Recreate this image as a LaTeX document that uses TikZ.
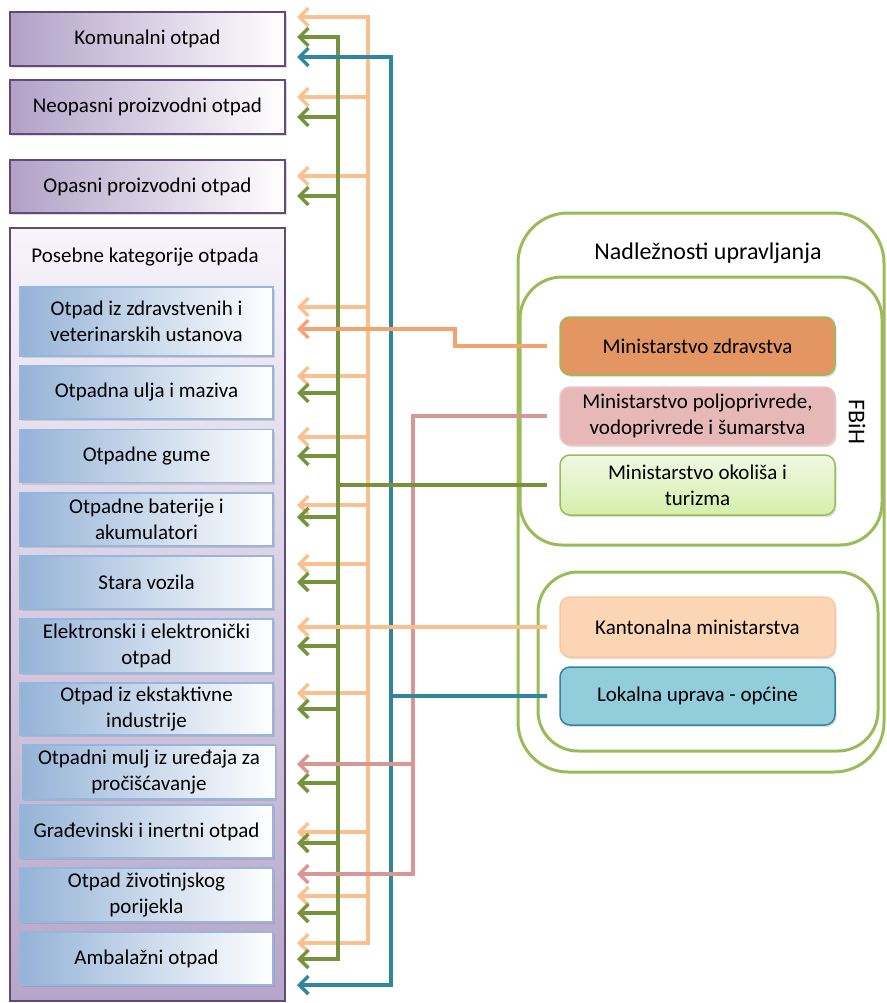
\documentclass[tikz,border=0pt]{standalone}
\usepackage{fontspec}
\setmainfont{Carlito}
\usetikzlibrary{arrows.meta,shadows}

\definecolor{lilac}{RGB}{178,161,199}
\definecolor{lilacpale}{RGB}{247,244,250}
\definecolor{lilacdark}{RGB}{96,74,123}
\definecolor{steel}{RGB}{149,179,215}
\definecolor{steelline}{RGB}{150,182,222}
\definecolor{leaf}{RGB}{155,187,89}
\definecolor{moss}{RGB}{118,146,60}
\definecolor{peach}{RGB}{250,192,144}
\definecolor{tangerine}{RGB}{244,162,112}
\definecolor{rose}{RGB}{217,150,148}
\definecolor{sea}{RGB}{49,133,156}
\definecolor{health}{RGB}{228,150,98}
\definecolor{farm}{RGB}{230,185,184}
\definecolor{farmline}{RGB}{236,196,195}
\definecolor{envtop}{RGB}{240,248,228}
\definecolor{envbot}{RGB}{212,240,170}
\definecolor{canton}{RGB}{251,213,180}
\definecolor{cantonline}{RGB}{250,200,160}
\definecolor{local}{RGB}{146,205,220}

\tikzset{
  txt/.style={font=\fontsize{21}{26}\selectfont, align=center},
  kind/.style={txt, draw=lilacdark, line width=1.5pt, left color=lilac, right color=white,
    minimum width=275pt, minimum height=54pt, inner sep=0pt,
    drop shadow={opacity=0.25,shadow xshift=1.5pt,shadow yshift=-2pt}},
  group/.style={draw=lilacdark, line width=1.2pt, top color=lilacpale, bottom color=lilac!95,
    minimum width=275pt, inner sep=0pt},
  sort/.style={txt, draw=steelline, line width=1.2pt, left color=steel, right color=white,
    minimum width=253pt, minimum height=53pt, inner sep=0pt,
    drop shadow={opacity=0.25,shadow xshift=1.5pt,shadow yshift=-2pt}},
  ministry/.style={txt, rounded corners=10pt, line width=1.5pt, minimum width=275pt,
    minimum height=58pt, inner sep=0pt,
    drop shadow={opacity=0.25,shadow xshift=1.5pt,shadow yshift=-2pt}},
  frame/.style={draw=leaf, line width=3pt, inner sep=0pt},
  link/.style={line width=3.5pt},
  arr/.style={link, -{Straight Barb[length=9pt,width=18pt]}},
  twoarr/.style={link, {Straight Barb[length=9pt,width=18pt]}-{Straight Barb[length=9pt,width=18pt]}},
}

\begin{document}
\begin{tikzpicture}[x=1pt,y=-1pt]
\useasboundingbox (0,0) rectangle (886,1003);

% competences
\node[frame, rounded corners=50pt, minimum width=366pt, minimum height=559pt] (nadl) at (701,492.5) {};
\node[frame, rounded corners=42pt, minimum width=362pt, minimum height=268pt] (fbih) at (701,411) {};
\node[frame, rounded corners=40pt, minimum width=340pt, minimum height=179pt] (kanton) at (708,661.5) {};
\node[txt, font=\fontsize{24}{28}\selectfont] (nadllbl) at (708,253) {Nadležnosti upravljanja};
\node[txt, font=\fontsize{24}{28}\selectfont, rotate=-90] (fbihlbl) at (857,422) {FBiH};

\node[ministry, draw=leaf, fill=health] (zdr) at (697.5,346) {Ministarstvo zdravstva};
\node[ministry, draw=farmline, fill=farm] (polj) at (697.5,416) {Ministarstvo poljoprivrede,\\vodoprivrede i šumarstva};
\node[ministry, draw=leaf, top color=envtop, bottom color=envbot, minimum height=60pt] (okol) at (697.5,485) {Ministarstvo okoliša i\\turizma};
\node[ministry, draw=cantonline, fill=canton, minimum height=60pt] (kant) at (697.5,627) {Kantonalna ministarstva};
\node[ministry, draw=sea, fill=local] (lok) at (697.5,696) {Lokalna uprava - općine};

% trunks
\coordinate (tip) at (297,0);
\coordinate (gx) at (338,0);
\coordinate (ox) at (368,0);
\coordinate (tx) at (391,0);
\coordinate (px) at (413,0);
\coordinate (zstep) at (455,329);

\draw[twoarr, peach] (tip|-0,17) -- (ox|-0,17) -- (ox|-0,943) -- (tip|-0,943);
\foreach \y in {97,176,307,376,437,505,564,693,832,896}
  \draw[arr, peach] (ox|-0,\y) -- (tip|-0,\y);
\draw[twoarr, moss] (tip|-0,37) -- (gx|-0,37) -- (gx|-0,959) -- (tip|-0,959);
\foreach \y in {117,196,393,456,517,582,646,709,783,843,913}
  \draw[arr, moss] (gx|-0,\y) -- (tip|-0,\y);
\draw[twoarr, sea] (tip|-0,57) -- (tx|-0,57) -- (tx|-0,985) -- (tip|-0,985);

\draw[arr, tangerine, shorten <=12pt] (zdr.west) -| (zstep) -- (zstep -| tip);
\draw[arr, rose, shorten <=12pt] (polj.west) -| (px|-0,874) -- (tip|-0,874);
\draw[arr, rose] (px|-0,764) -- (tip|-0,764);
\draw[link, moss, shorten <=12pt] (okol.west) -- (okol.west -| gx);
\draw[arr, peach, shorten <=12pt] (kant.west) -- (kant.west -| tip);
\draw[link, sea, shorten <=12pt] (lok.west) -- (lok.west -| tx);

% waste kinds
\node[kind] (kom) at (147.5,39) {Komunalni otpad};
\node[kind] (neo) at (147.5,107) {Neopasni proizvodni otpad};
\node[kind, minimum height=53pt] (opa) at (147.5,186.5) {Opasni proizvodni otpad};
\node[group, minimum height=773pt] (pos) at (147.5,614.5) {};
\node[txt] (poslbl) at (145,257) {Posebne kategorije otpada};

\node[sort, minimum height=69pt] (zdrav) at (146.5,321.5) {Otpad iz zdravstvenih i\\veterinarskih ustanova};
\node[sort] (ulja) at (146.5,392.5) {Otpadna ulja i maziva};
\node[sort] (gume) at (146.5,456) {Otpadne gume};
\node[sort] (bat) at (146.5,519.5) {Otpadne baterije i\\akumulatori};
\node[sort] (vozila) at (146.5,582.5) {Stara vozila};
\node[sort, minimum height=54pt] (elek) at (146.5,646) {Elektronski i elektronički\\otpad};
\node[sort, minimum height=52pt] (ekst) at (146.5,709) {Otpad iz ekstaktivne\\industrije};
\node[sort, minimum height=54pt] (mulj) at (149,772) {Otpadni mulj iz uređaja za\\pročišćavanje};
\node[sort] (grad) at (146.5,831.5) {Građevinski i inertni otpad};
\node[sort, minimum height=54pt] (ziv) at (146.5,895) {Otpad životinjskog\\porijekla};
\node[sort] (amb) at (146.5,958.5) {Ambalažni otpad};
\end{tikzpicture}
\end{document}
